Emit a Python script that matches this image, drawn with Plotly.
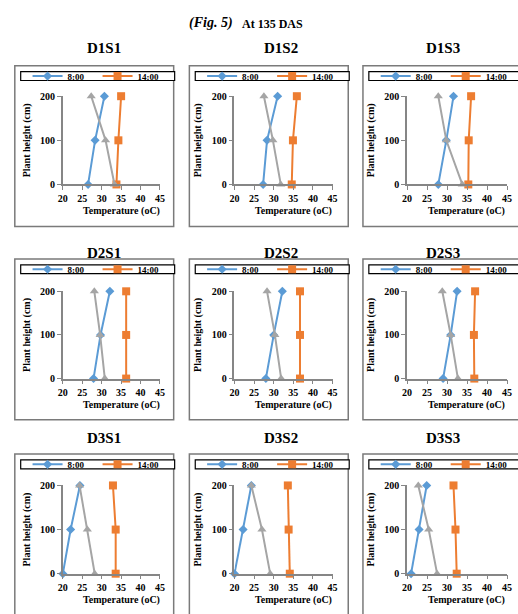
import plotly.graph_objects as go

# ---------------- data ----------------
heights = [0, 100, 200]
panels = ["D1S1", "D1S2", "D1S3", "D2S1", "D2S2", "D2S3", "D3S1", "D3S2", "D3S3"]
temp_0800 = [
    [26.5, 28.3, 30.7], [27.3, 28.3, 31.0], [27.8, 29.8, 31.6],
    [27.9, 29.7, 32.1], [28.0, 30.0, 32.2], [29.0, 30.9, 32.5],
    [20.0, 22.0, 24.4], [20.0, 22.2, 24.3], [21.0, 23.0, 24.9],
]
temp_1400 = [
    [33.8, 34.3, 35.0], [34.6, 34.9, 35.9], [35.3, 35.4, 36.0],
    [36.3, 36.3, 36.3], [36.7, 36.7, 36.7], [36.8, 36.7, 37.0],
    [33.6, 33.6, 32.9], [34.1, 33.8, 33.6], [32.4, 32.1, 31.6],
]
temp_other = [
    [33.3, 31.0, 27.3], [31.8, 29.8, 27.5], [33.8, 29.8, 27.8],
    [30.8, 29.6, 28.1], [31.9, 30.3, 28.3], [32.7, 30.9, 28.8],
    [28.2, 26.3, 24.3], [29.1, 27.0, 24.3], [27.5, 25.4, 22.8],
]
x_ticks = [20, 25, 30, 35, 40, 45]
y_ticks = [0, 100, 200]

# ---------------- layout geometry (pixels) ----------------
W, H = 518, 614
col_px = [(59, 158), (234, 334), (410, 512)]
row_px = [(92, 182), (291, 380), (489, 579)]
box_left = [10, 188, 365]
box_top = [61, 258, 457]
box_w, box_h = 162, 164
title_x = [101, 281, 447]
title_y = [43, 252, 441]
xtitle_dy = 27

BLUE, ORANGE, GRAY = "#5B9BD5", "#ED7D31", "#A5A5A5"
AXC = "#868686"
SERIF = "Liberation Serif"


def px(x):
    return x / W


def py(y):
    return 1 - y / H


fig = go.Figure()
shapes, annotations = [], []
layout = {}

for i, name in enumerate(panels):
    r, c = divmod(i, 3)
    k = i + 1
    xa = "x" if k == 1 else f"x{k}"
    ya = "y" if k == 1 else f"y{k}"
    lg = "legend" if k == 1 else f"legend{k}"

    fig.add_trace(go.Scatter(
        x=temp_0800[i], y=heights, name="8:00", mode="lines+markers",
        line=dict(color=BLUE, width=2), marker=dict(symbol="diamond", size=7, color=BLUE),
        xaxis=xa, yaxis=ya, legend=lg, cliponaxis=False))
    fig.add_trace(go.Scatter(
        x=temp_1400[i], y=heights, name="14:00", mode="lines+markers",
        line=dict(color=ORANGE, width=2), marker=dict(symbol="square", size=8, color=ORANGE),
        xaxis=xa, yaxis=ya, legend=lg, cliponaxis=False))
    fig.add_trace(go.Scatter(
        x=temp_other[i], y=heights, name="Other", mode="lines+markers", showlegend=False,
        line=dict(color=GRAY, width=2), marker=dict(symbol="triangle-up", size=8, color=GRAY),
        xaxis=xa, yaxis=ya, cliponaxis=False))

    x0, x1 = col_px[c]
    ytop, ybot = row_px[r]
    axis_common = dict(
        showline=True, linecolor=AXC, linewidth=1.5, ticks="outside", ticklen=4,
        tickcolor=AXC, tickwidth=1, showgrid=False, zeroline=False,
        tickfont=dict(family=SERIF, size=10, color="black", weight="bold"),
    )
    layout["xaxis" if k == 1 else f"xaxis{k}"] = dict(
        domain=[px(x0), px(x1)], anchor=ya, range=[20, 45], tickvals=x_ticks, **axis_common)
    layout["yaxis" if k == 1 else f"yaxis{k}"] = dict(
        domain=[py(ybot), py(ytop)], anchor=xa, range=[0, 200], tickvals=y_ticks,
        title=dict(text="Plant height (cm)", standoff=8,
                   font=dict(family=SERIF, size=10, color="black", weight="bold")),
        **axis_common)

    # panel box
    bl, bt = box_left[c], box_top[r]
    shapes.append(dict(type="rect", xref="paper", yref="paper",
                       x0=px(bl), x1=px(bl + box_w), y0=py(bt + box_h), y1=py(bt),
                       line=dict(color="#7a7a7a", width=1.5), fillcolor="rgba(0,0,0,0)", layer="below"))
    # legend box
    shapes.append(dict(type="rect", xref="paper", yref="paper",
                       x0=px(bl + 6), x1=px(bl + box_w + 1), y0=py(bt + 15), y1=py(bt + 6),
                       line=dict(color="black", width=1.2), fillcolor="white", layer="below"))
    layout[lg] = dict(
        x=px(bl + 13), y=py(bt + 10.5), xanchor="left", yanchor="middle",
        orientation="h", bgcolor="rgba(0,0,0,0)", borderwidth=0,
        entrywidth=25, itemclick=False, itemdoubleclick=False,
        font=dict(family=SERIF, size=9, color="black", weight="bold"))

    # panel title
    annotations.append(dict(text=name, x=px(title_x[c]), y=py(title_y[r]), xref="paper", yref="paper",
                            showarrow=False, xanchor="center", yanchor="middle",
                            font=dict(family=SERIF, size=15, color="black", weight="bold")))
    # x axis title
    annotations.append(dict(text="Temperature (oC)", x=px((x0 + x1) / 2 + 10), y=py(ybot + xtitle_dy),
                            xref="paper", yref="paper", showarrow=False,
                            xanchor="center", yanchor="middle",
                            font=dict(family=SERIF, size=10, color="black", weight="bold")))

# figure label
annotations.append(dict(text="<i>(Fig. 5)</i>", x=px(186), y=py(17), xref="paper", yref="paper",
                        showarrow=False, xanchor="left", yanchor="middle",
                        font=dict(family=SERIF, size=14, color="black", weight="bold")))
annotations.append(dict(text="At 135 DAS", x=px(240), y=py(18), xref="paper", yref="paper",
                        showarrow=False, xanchor="left", yanchor="middle",
                        font=dict(family=SERIF, size=12, color="black", weight="bold")))

fig.update_layout(
    width=W, height=H, margin=dict(l=0, r=0, t=0, b=0),
    paper_bgcolor="white", plot_bgcolor="white",
    shapes=shapes, annotations=annotations, **layout)

fig.write_html("out.html")
